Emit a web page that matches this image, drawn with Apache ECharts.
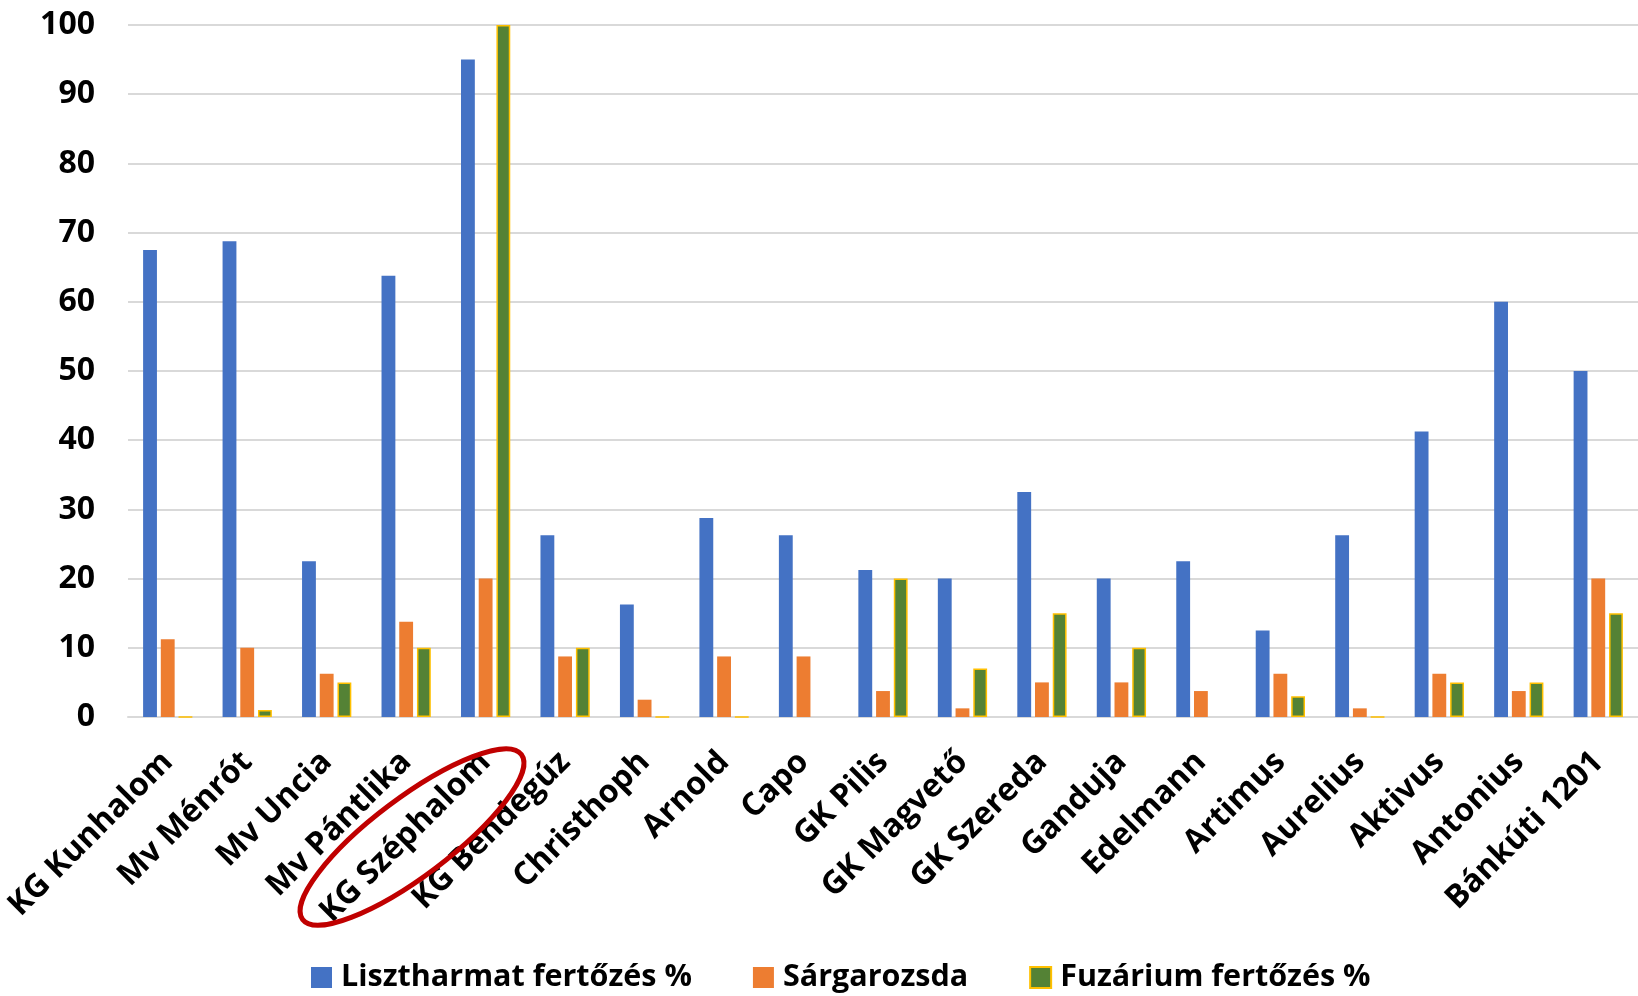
<!DOCTYPE html>
<html>
<head>
<meta charset="utf-8">
<script src="https://cdn.jsdelivr.net/npm/echarts@6/dist/echarts.min.js"></script>
<style>
html,body{margin:0;padding:0;background:#fff;}
#chart{width:1638px;height:996px;}
</style>
</head>
<body>
<div id="chart"></div>
<script>
const categories = ['KG Kunhalom','Mv Ménrót','Mv Uncia','Mv Pántlika','KG Széphalom','KG Bendegúz','Christhoph','Arnold','Capo','GK Pilis','GK Magvető','GK Szereda','Ganduja','Edelmann','Artimus','Aurelius','Aktivus','Antonius','Bánkúti 1201'];
const seriesNames = ['Lisztharmat fertőzés %','Sárgarozsda','Fuzárium fertőzés %'];
const lisztharmat = [67.5,68.75,22.5,63.75,95,26.25,16.25,28.75,26.25,21.25,20,32.5,20,22.5,12.5,26.25,41.25,60,50];
const sargarozsda = [11.25,10,6.25,13.75,20,8.75,2.5,8.75,8.75,3.75,1.25,5,5,3.75,6.25,1.25,6.25,3.75,20];
const fuzarium = [0,1,5,10,100,10,0,0,'-',20,7,15,10,'-',3,0,5,5,15];
const yTicks = [0,10,20,30,40,50,60,70,80,90,100];

const FONT = "'Open Sans', 'Noto Sans', sans-serif";
const chart = echarts.init(document.getElementById('chart'), null, {renderer:'canvas'});
chart.setOption({
  animation:false,
  backgroundColor:'#ffffff',
  textStyle:{fontFamily:FONT},
  grid:{left:128, top:25, width:1520, height:692, containLabel:false},
  legend:{
    left:306, top:957,
    itemWidth:21, itemHeight:21, itemGap:61,
    icon:'rect',
    textStyle:{fontFamily:FONT, fontWeight:'bold', fontSize:30.5, color:'#000', padding:[0,0,0,4]},
    data:seriesNames
  },
  xAxis:{
    type:'category',
    data:categories,
    axisLine:{show:true, lineStyle:{color:'#d9d9d9', width:2}},
    axisTick:{show:false},
    axisLabel:{rotate:45, interval:0, margin:40, padding:[16,0,0,0], color:'#000', fontFamily:FONT, fontWeight:'bold', fontSize:32}
  },
  yAxis:{
    type:'value', min:yTicks[0], max:yTicks[yTicks.length-1], interval:10,
    axisLine:{show:false}, axisTick:{show:false},
    splitLine:{lineStyle:{color:'#d9d9d9', width:2}},
    axisLabel:{margin:33, color:'#000', fontFamily:FONT, fontWeight:'bold', fontSize:32}
  },
  series:[
    {name:seriesNames[0], type:'bar', data:lisztharmat, barCategoryGap:'38%', barGap:'28%',
     itemStyle:{color:'#4472C4'}},
    {name:seriesNames[1], type:'bar', data:sargarozsda,
     itemStyle:{color:'#ED7D31'}},
    {name:seriesNames[2], type:'bar', data:fuzarium,
     itemStyle:{color:'#548235', borderColor:'#FFC000', borderWidth:1.5}}
  ],
  graphic:[
    {type:'ellipse', x:412, y:837, rotation:37*Math.PI/180,
     shape:{cx:0, cy:0, rx:137, ry:39},
     style:{fill:'none', stroke:'#C00000', lineWidth:5}, z:100}
  ]
});
</script>
</body>
</html>
